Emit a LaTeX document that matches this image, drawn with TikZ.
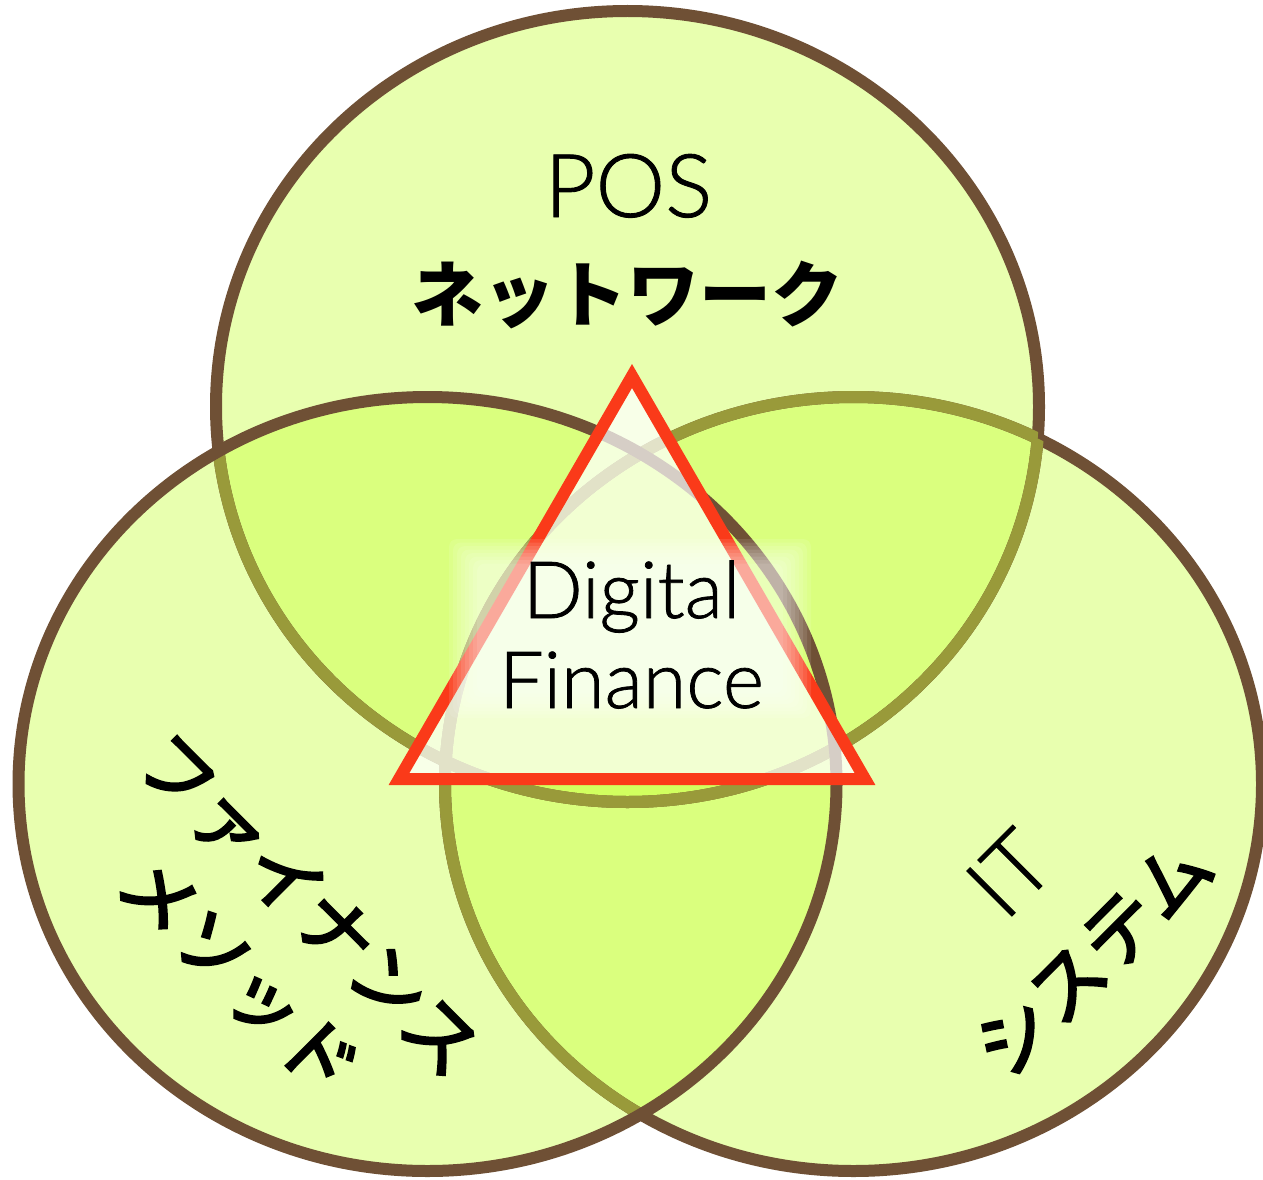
\documentclass[tikz,border=0pt]{standalone}
\usepackage{fontspec}
\setmainfont[FakeBold=1]{Lato Light}
\newfontfamily\jp{Noto Sans CJK JP}
\newfontfamily\jpm[FakeBold=3.5]{Noto Sans CJK JP}
\definecolor{limefill}{RGB}{197,255,47}
\definecolor{ringbrown}{RGB}{111,80,53}
\definecolor{ringolive}{RGB}{153,154,58}
\definecolor{trired}{RGB}{250,58,25}
\tikzset{
  radT/.style={x radius=411.5,y radius=395.5},
  radL/.style={x radius=409,y radius=387},
  radR/.style={x radius=408.5,y radius=387},
  ringline/.style={line width=12},
  vennfill/.style={fill=limefill,fill opacity=0.38},
  labeltext/.style={inner sep=0pt,align=center},
}
\begin{document}
\begin{tikzpicture}[x=1pt,y=-1pt]
\useasboundingbox (0,0) rectangle (1263,1180);
\fill[white] (0,0) rectangle (1263,1180);
\coordinate (cT) at (627.5,406.5);
\coordinate (cL) at (427.5,784);
\coordinate (cR) at (853.5,784);
% fills
\fill[vennfill] (cT) ellipse[radT];
\fill[vennfill] (cR) ellipse[radR];
\fill[vennfill] (cL) ellipse[radL];
% strokes of top and right
\draw[ringbrown,ringline] (cT) ellipse[radT];
\draw[ringbrown,ringline] (cR) ellipse[radR];
\begin{scope}
  \clip (cR) ellipse[radR];
  \draw[ringolive,ringline] (cT) ellipse[radT];
\end{scope}
\begin{scope}
  \clip (cT) ellipse[radT];
  \draw[ringolive,ringline] (cR) ellipse[radR];
\end{scope}
\begin{scope}
  \clip (cL) ellipse[radL];
  \draw[ringolive,ringline] (cT) ellipse[radT];
  \draw[ringolive,ringline] (cR) ellipse[radR];
\end{scope}
\draw[ringbrown,ringline] (cL) ellipse[radL];
% triangle
\coordinate (tA) at (632,376);
\coordinate (tB) at (399,779);
\coordinate (tC) at (865,779);
\fill[white,fill opacity=0.72] (tA) -- (tB) -- (tC) -- cycle;
\draw[trired,line width=12,line join=miter] (tA) -- (tB) -- (tC) -- cycle;
% glow behind text
\foreach \i in {0,...,7}
  \fill[white,fill opacity=0.1,rounded corners=8] ({449+4*\i},{539+3.5*\i}) rectangle ({811-4*\i},{718-3.5*\i});
% texts
\node[font=\fontsize{88}{88}\selectfont,anchor=base,inner sep=0pt] (pos) at (628.5,217) {POS};
\node[font=\jp\bfseries\fontsize{72}{72}\selectfont,inner sep=0pt] (net) at (627,295) {ネットワーク};
\node[font=\fontsize{79}{90}\selectfont,anchor=base,labeltext] (dig) at (631.5,708) {Digital\\Finance};
\node[font=\jpm\fontsize{75}{100}\selectfont,labeltext,rotate=-45] (fina) at (273.5,940.5) {ファイナンス\\メソッド};
\node[font=\jpm\fontsize{75}{114}\selectfont,labeltext,rotate=45] (sys) at (1051,915) {{\rmfamily\fontsize{90}{114}\selectfont IT}\\システム};
\end{tikzpicture}
\end{document}
